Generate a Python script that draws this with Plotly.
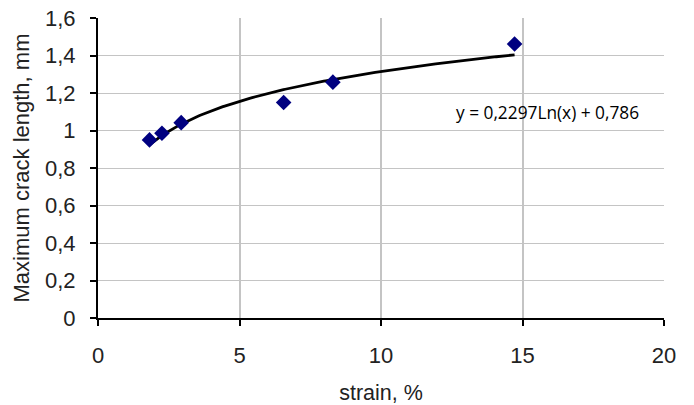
import numpy as np
import plotly.graph_objects as go

# data
strain = [1.82, 2.26, 2.94, 6.56, 8.30, 14.72]
crack_length = [0.95, 0.985, 1.042, 1.149, 1.258, 1.461]
# logarithmic trendline coefficients shown on the chart
trend_a = 0.2297
trend_b = 0.786
equation_text = "y = 0,2297Ln(x) + 0,786"
x_ticks = [0, 5, 10, 15, 20]
y_ticks = [0, 0.2, 0.4, 0.6, 0.8, 1.0, 1.2, 1.4, 1.6]

tx = np.linspace(min(strain), max(strain), 200)
ty = trend_a * np.log(tx) + trend_b

fig = go.Figure()
fig.add_trace(go.Scatter(x=tx, y=ty, mode="lines",
                         line=dict(color="black", width=2.8), hoverinfo="skip"))
fig.add_trace(go.Scatter(x=strain, y=crack_length, mode="markers",
                         marker=dict(symbol="diamond", size=12, color="#000080",
                                     line=dict(width=0))))

fig.add_annotation(x=15.9, y=1.095, xref="x", yref="y", text=equation_text,
                   showarrow=False, xanchor="center", yanchor="middle",
                   font=dict(family="Open Sans", size=17.3, color="black"))

font_main = "Liberation Sans, Arial, sans-serif"
fig.update_layout(
    width=694, height=405,
    margin=dict(l=98, r=30, t=18, b=87),
    paper_bgcolor="white", plot_bgcolor="white",
    showlegend=False,
    separators=", ",
    font=dict(family=font_main, size=22, color="#222222"),
    xaxis=dict(range=[0, 20], tickvals=x_ticks, showgrid=True, gridcolor="#c4c4c4",
               gridwidth=1.5, showline=True, linecolor="black", linewidth=2,
               ticks="outside", ticklen=6, tickcolor="black", tickwidth=1.5,
               zeroline=False, ticklabelstandoff=11, automargin=False,
               title=dict(text="strain, %", font=dict(size=21.5), standoff=18)),
    yaxis=dict(range=[0, 1.6], tickvals=y_ticks, showgrid=True, gridcolor="#c4c4c4",
               gridwidth=1.3, showline=True, linecolor="black", linewidth=2,
               ticks="outside", ticklen=6, tickcolor="black", tickwidth=1.5,
               zeroline=False, ticklabelstandoff=10, automargin=False,
               title=dict(text="Maximum crack length, mm", font=dict(size=22), standoff=9)),
)
fig.write_html("out.html", config={"displayModeBar": False},
               post_script="document.body.style.margin='0';document.body.style.overflow='hidden';")
